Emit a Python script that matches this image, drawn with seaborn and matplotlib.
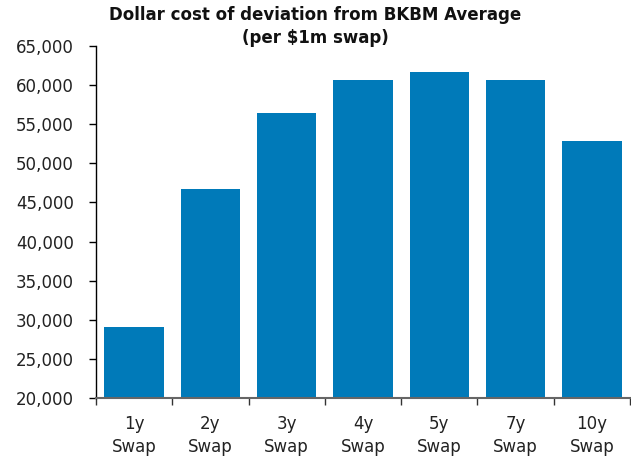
import matplotlib
matplotlib.use("Agg")
import matplotlib.pyplot as plt
import seaborn as sns
import pandas as pd

categories = ["1y\nSwap", "2y\nSwap", "3y\nSwap", "4y\nSwap", "5y\nSwap", "7y\nSwap", "10y\nSwap"]
values = [29100, 46700, 56400, 60600, 61700, 60600, 52800]
y_ticks = [20000, 25000, 30000, 35000, 40000, 45000, 50000, 55000, 60000, 65000]

sns.set_style("white")
plt.rcParams['font.family'] = ['DejaVu Sans']

df = pd.DataFrame({"cat": categories, "val": values})

fig = plt.figure(figsize=(6.31, 4.58), dpi=100)
ax = fig.add_axes([96/631, 1 - 398/458, (630 - 96)/631, (398 - 46)/458])

sns.barplot(data=df, x="cat", y="val", color="#007AB9", saturation=1, width=0.78,
            edgecolor="none", ax=ax)

ax.set_ylim(20000, 65000)
ax.set_yticks(y_ticks)
ax.set_yticklabels([f"{v:,}" for v in y_ticks], fontsize=12, color="#222222")
ax.set_xlim(-0.5, len(categories) - 0.5)
ax.set_xticks([i - 0.5 for i in range(len(categories) + 1)], minor=False)
ax.set_xticklabels([])
ax.set_xticks(range(len(categories)), minor=True)
ax.set_xticklabels(categories, minor=True, fontsize=12, color="#222222", linespacing=1.35)
ax.tick_params(axis="x", which="major", direction="out", length=5, width=1, color="#333333", bottom=True)
ax.tick_params(axis="x", which="minor", length=0, pad=12)
ax.tick_params(axis="y", direction="out", length=5, width=1, color="black", left=True, pad=11)
ax.set_xlabel("")
ax.set_ylabel("")

for s in ["top", "right"]:
    ax.spines[s].set_visible(False)
ax.spines["left"].set_color("black")
ax.spines["left"].set_linewidth(1)
ax.spines["bottom"].set_color("#666666")
ax.spines["bottom"].set_linewidth(1.5)

fig.text(0.5, 1 - 15/458, "Dollar cost of deviation from BKBM Average", ha="center", va="center",
         fontsize=12, fontweight="bold", color="#111111")
fig.text(0.5, 1 - 38/458, "(per $1m swap)", ha="center", va="center",
         fontsize=12, fontweight="bold", color="#111111")

fig.savefig("out.png", dpi=100)
